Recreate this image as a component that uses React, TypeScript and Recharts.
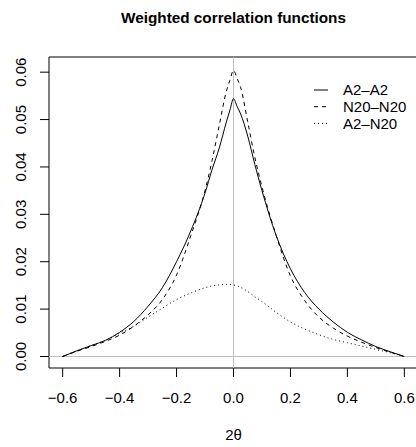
import React from 'react';
import { LineChart, Line, XAxis, YAxis, ReferenceLine, ReferenceArea, Legend, Customized } from 'recharts';

// ---- data ----
const xValues = [-0.6, -0.55, -0.5, -0.45, -0.4, -0.35, -0.3, -0.25, -0.2, -0.15, -0.1, -0.075, -0.05, -0.025, -0.0125, 0, 0.0125, 0.025, 0.05, 0.075, 0.1, 0.15, 0.2, 0.25, 0.3, 0.35, 0.4, 0.45, 0.5, 0.55, 0.6];
const a2a2 = [0, 0.0012, 0.0023, 0.0034, 0.0051, 0.0074, 0.0106, 0.0145, 0.02, 0.0265, 0.0345, 0.0395, 0.044, 0.0495, 0.052, 0.0544, 0.0528, 0.0512, 0.0465, 0.0405, 0.035, 0.0255, 0.0185, 0.0135, 0.01, 0.0073, 0.0051, 0.0035, 0.0021, 0.001, 0];
const n20n20 = [0, 0.0011, 0.0021, 0.0032, 0.0045, 0.0064, 0.0088, 0.012, 0.0172, 0.0255, 0.035, 0.0414, 0.0488, 0.056, 0.0583, 0.0604, 0.0587, 0.0568, 0.0495, 0.042, 0.0358, 0.0255, 0.017, 0.0118, 0.0083, 0.006, 0.0043, 0.003, 0.0019, 0.0009, 0];
const a2n20 = [0, 0.0012, 0.0023, 0.0034, 0.0049, 0.0064, 0.0083, 0.0102, 0.012, 0.0134, 0.0145, 0.0149, 0.0151, 0.0152, 0.0152, 0.0151, 0.0149, 0.0146, 0.0137, 0.0126, 0.0116, 0.0093, 0.0073, 0.0058, 0.0046, 0.0036, 0.0029, 0.0022, 0.0015, 0.0008, 0];
const xTicks = [-0.6, -0.4, -0.2, 0, 0.2, 0.4, 0.6];
const yTicks = [0, 0.01, 0.02, 0.03, 0.04, 0.05, 0.06];
const seriesNames = ['A2\u2013A2', 'N20\u2013N20', 'A2\u2013N20'];
const titleText = 'Weighted correlation functions';
const xLabelText = '2\u03B8';

const X_DOMAIN: [number, number] = [-0.648, 0.648];
const Y_DOMAIN: [number, number] = [-0.00243, 0.0632];

const data = xValues.map((x, i) => ({ x, a2a2: a2a2[i], n20n20: n20n20[i], a2n20: a2n20[i] }));

const series = [
  { key: 'a2a2', name: seriesNames[0], dash: undefined as string | undefined },
  { key: 'n20n20', name: seriesNames[1], dash: '4 4' },
  { key: 'a2n20', name: seriesNames[2], dash: '1 3' },
];

const FONT = '"Liberation Sans", Arial, Helvetica, sans-serif';
const fmt = (v: number, d: number) => (v < 0 ? '\u2212' : '') + Math.abs(v).toFixed(d);

const XTick = (props: any) => {
  const { x, y, payload } = props;
  return (
    <text x={x} y={y + 24} textAnchor="middle" fontSize={15} fontFamily={FONT} fill="#000">
      {fmt(payload.value, 1)}
    </text>
  );
};

const YTick = (props: any) => {
  const { x, y, payload } = props;
  const tx = x - 11.5;
  return (
    <text x={tx} y={y} transform={`rotate(-90 ${tx} ${y})`} textAnchor="middle" fontSize={15} fontFamily={FONT} fill="#000">
      {fmt(payload.value, 2)}
    </text>
  );
};

const renderLegend = () => (
  <svg width={110} height={50} style={{ display: 'block', overflow: 'visible' }}>
    {series.map((s, i) => {
      const cy = 10 + 16.7 * i;
      return (
        <g key={s.key}>
          <line x1={4} x2={18} y1={cy} y2={cy} stroke="#000" strokeWidth={1} strokeDasharray={s.dash} />
          <text x={33} y={cy + 5.3} fontSize={15} fontFamily={FONT} fill="#000">{s.name}</text>
        </g>
      );
    })}
  </svg>
);

const Titles = () => (
  <g>
    <text x={233.5} y={23} textAnchor="middle" fontSize={15.3} fontWeight="bold" fontFamily={FONT} fill="#000">{titleText}</text>
    <text x={233.5} y={440} textAnchor="middle" fontSize={15} fontFamily={FONT} fill="#000">{xLabelText}</text>
  </g>
);

export default function App() {
  return (
    <div style={{ position: 'absolute', left: 0, top: 0, width: 416, height: 447, overflow: 'hidden', background: '#fff' }}>
      <LineChart width={430} height={447} data={data} margin={{ top: 57, right: 12, bottom: 0, left: 0 }}>
        <XAxis
          dataKey="x"
          type="number"
          domain={X_DOMAIN}
          ticks={xTicks}
          allowDataOverflow
          axisLine={false}
          tickLine={{ stroke: '#000' }}
          tickSize={9}
          height={79}
          tick={<XTick />}
          interval={0}
        />
        <YAxis
          type="number"
          domain={Y_DOMAIN}
          ticks={yTicks}
          allowDataOverflow
          axisLine={false}
          tickLine={{ stroke: '#000' }}
          tickSize={9}
          width={49}
          tick={<YTick />}
          interval={0}
        />
        <ReferenceLine y={0} stroke="#BEBEBE" strokeWidth={1} />
        <ReferenceLine x={0} stroke="#BEBEBE" strokeWidth={1} />
        <ReferenceArea x1={X_DOMAIN[0]} x2={X_DOMAIN[1]} y1={Y_DOMAIN[0]} y2={Y_DOMAIN[1]} fill="none" fillOpacity={0} stroke="#000" strokeWidth={1} strokeOpacity={1} />
        {series.map((s) => (
          <Line
            key={s.key}
            dataKey={s.key}
            name={s.name}
            type="monotone"
            stroke="#000"
            strokeWidth={1}
            strokeDasharray={s.dash}
            dot={false}
            activeDot={false}
            isAnimationActive={false}
          />
        ))}
        <Legend
          content={renderLegend}
          layout="horizontal"
          verticalAlign="middle"
          align="center"
          wrapperStyle={{ position: 'absolute', left: 310, top: 80, width: 110, height: 50 }}
        />
        <Customized component={Titles} />
      </LineChart>
    </div>
  );
}
